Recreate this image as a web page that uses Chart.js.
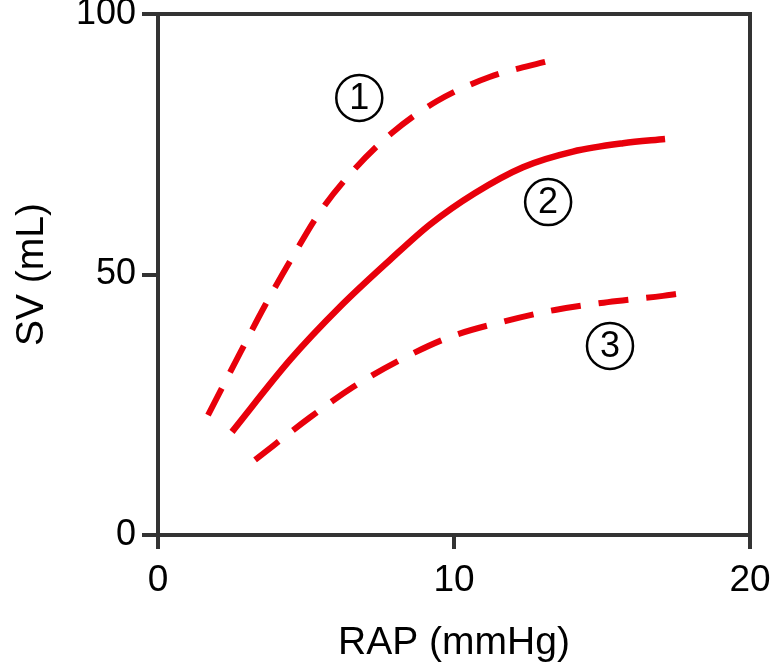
<!DOCTYPE html>
<html lang="en">
<head>
    <meta charset="UTF-8">
    <title>SV vs RAP</title>
    <style>
        body { margin: 0; background: #fff; }
        #wrap { width: 770px; height: 672px; }
    </style>
</head>
<body>
    <div id="wrap"><canvas id="chart"></canvas></div>

    <script src="https://cdn.jsdelivr.net/npm/chart.js"></script>
    <script>
        // curve data (RAP mmHg, SV mL)
        const rap1 = [1.69, 2.77, 3.61, 4.53, 5.47, 6.62, 7.91, 9.43, 11.2, 13.35];
        const sv1 = [23.0, 34.9, 44.0, 53.2, 62.0, 70.1, 77.2, 83.3, 87.9, 91.2];

        const rap2 = [2.5, 4.46, 6.15, 7.84, 9.19, 10.7, 12.33, 14.02, 15.71, 17.13];
        const sv2 = [19.8, 33.6, 43.8, 52.8, 59.6, 65.6, 70.6, 73.6, 75.2, 76.0];

        const rap3 = [3.28, 5.14, 6.59, 8.18, 9.86, 11.62, 13.41, 15.2, 17.06, 17.57];
        const sv3 = [14.4, 22.6, 28.4, 33.6, 38.0, 40.9, 43.2, 44.7, 45.9, 46.3];

        const xTicks = [0, 10, 20];
        const yTicks = [0, 50, 100];

        // circled curve numbers
        const markNames = ['1', '2', '3'];
        const markX = [6.8, 13.18, 15.27];
        const markY = [83.9, 63.9, 36.3];

        const RED = '#e8000b';
        const AXIS = '#333333';
        const FONT = '"Liberation Sans", Arial, sans-serif';

        function pts(xs, ys) {
            return xs.map((x, i) => ({ x: x, y: ys[i] }));
        }

        // box round the plot + circled labels
        const extras = {
            id: 'extras',
            afterDraw(chart) {
                const c = chart.ctx;
                const a = chart.chartArea;
                const sx = chart.scales.x, sy = chart.scales.y;
                c.save();
                c.strokeStyle = AXIS;
                c.lineWidth = 4;
                c.strokeRect(a.left, a.top, a.right - a.left, a.bottom - a.top);

                c.lineWidth = 2.5;
                c.strokeStyle = '#000';
                c.fillStyle = '#000';
                c.font = '36px ' + FONT;
                c.textAlign = 'center';
                c.textBaseline = 'middle';
                markNames.forEach((t, i) => {
                    const px = sx.getPixelForValue(markX[i]);
                    const py = sy.getPixelForValue(markY[i]);
                    c.beginPath();
                    c.arc(px, py, 23, 0, Math.PI * 2);
                    c.stroke();
                    c.fillText(t, px, py + 1);
                });
                c.restore();
            }
        };

        const lineBase = {
            borderColor: RED,
            borderWidth: 6,
            pointRadius: 0,
            fill: false,
            showLine: true,
            cubicInterpolationMode: 'monotone'
        };

        new Chart(document.getElementById('chart'), {
            type: 'scatter',
            data: {
                datasets: [
                    Object.assign({}, lineBase, { data: pts(rap1, sv1), borderDash: [30, 18] }),
                    Object.assign({}, lineBase, { data: pts(rap2, sv2), borderWidth: 6.5 }),
                    Object.assign({}, lineBase, { data: pts(rap3, sv3), borderDash: [30, 18] })
                ]
            },
            options: {
                responsive: true,
                maintainAspectRatio: false,
                animation: false,
                layout: { padding: { top: 14, right: 20, left: 0, bottom: 0 } },
                plugins: { legend: { display: false }, tooltip: { enabled: false } },
                scales: {
                    x: {
                        type: 'linear',
                        min: 0, max: 20,
                        afterBuildTicks: s => { s.ticks = xTicks.map(v => ({ value: v })); },
                        afterFit: s => { s.height = 137; s.paddingLeft = 0; s.paddingRight = 0; },
                        border: { display: false },
                        grid: { drawOnChartArea: false, drawTicks: true, tickLength: 14, tickColor: AXIS, lineWidth: 4 },
                        ticks: { color: '#000', padding: 10, maxRotation: 0, font: { size: 37, family: FONT } },
                        title: { display: true, text: 'RAP (mmHg)', color: '#000', padding: { top: 0, bottom: 5 }, font: { size: 39, family: FONT } }
                    },
                    y: {
                        type: 'linear',
                        min: 0, max: 100,
                        afterBuildTicks: s => { s.ticks = yTicks.map(v => ({ value: v })); },
                        afterFit: s => { s.width = 158; s.paddingTop = 0; s.paddingBottom = 0; },
                        border: { display: false },
                        grid: { drawOnChartArea: false, drawTicks: true, tickLength: 16, tickColor: AXIS, lineWidth: 4 },
                        ticks: { color: '#000', padding: 6, font: { size: 36, family: FONT } },
                        title: { display: true, text: 'SV (mL)', color: '#000', padding: { top: 9, bottom: 0 }, font: { size: 39, family: FONT } }
                    }
                }
            },
            plugins: [extras]
        });
    </script>
</body>
</html>
